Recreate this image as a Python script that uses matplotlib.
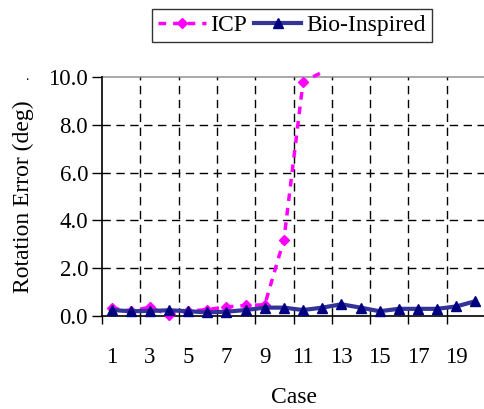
import numpy as np
import matplotlib
matplotlib.use("Agg")
import matplotlib.pyplot as plt

cases = list(range(1, 21))
icp = [0.32, 0.22, 0.36, 0.05, 0.2, 0.27, 0.38, 0.44, 0.47, 3.2, 9.8, 10.2] + [np.nan] * 8
bio = [0.25, 0.2, 0.21, 0.24, 0.2, 0.15, 0.18, 0.25, 0.35, 0.35,
       0.25, 0.35, 0.49, 0.35, 0.2, 0.3, 0.3, 0.3, 0.4, 0.62]
yticks = [0, 2, 4, 6, 8, 10]
xlabels = [str(c) for c in range(1, 21, 2)]

plt.rcParams['font.family'] = ['Liberation Serif', 'DejaVu Serif']
fs = 16.5

fig = plt.figure(figsize=(4.84, 4.09), dpi=100)
ax = fig.add_axes([102/484, 1-316/409, 383/484, 239/409])

ax.set_xlim(0.5, 20.5)
ax.set_ylim(0, 10)

# grid
for y in [2, 4, 6, 8]:
    ax.axhline(y, color='black', lw=1, ls=(0, (6, 4)), zorder=1)
ax.axhline(10, color='#999999', lw=1.2, zorder=1, clip_on=False)
for x in np.arange(2.5, 19, 2):
    ax.axvline(x, color='black', lw=1, ls=(0, (6, 4)), zorder=1)

ax.plot(cases, icp, color='#FF00FF', lw=2.5, ls=(0, (2.2, 2)),
        marker='D', markersize=5.5, markeredgecolor='#FF00FF',
        markerfacecolor='#FF00FF', markevery=list(range(11)),
        clip_on=False, zorder=3, label='ICP')
ax.plot(cases, bio, color='#333399', lw=3, marker='^', markersize=7,
        markerfacecolor='#000080', markeredgecolor='#000080',
        zorder=4, label='Bio-Inspired', clip_on=False)

for s in ['top', 'right']:
    ax.spines[s].set_visible(False)
ax.spines['left'].set_linewidth(1.2)
ax.spines['bottom'].set_linewidth(1.2)

ax.set_yticks(yticks)
ax.set_yticklabels([f"{v:.1f}" for v in yticks], fontsize=fs)
ax.tick_params(axis='y', direction='out', length=7, width=1, pad=3)

ax.set_xticks(np.arange(0.5, 20, 2))
ax.set_xticklabels([])
ax.tick_params(axis='x', which='major', direction='out', length=6, width=1)
ax.set_xticks(np.arange(1, 20, 2), minor=True)
ax.set_xticklabels(xlabels, minor=True, fontsize=fs)
ax.tick_params(axis='x', which='minor', length=0, pad=22)

ax.set_ylabel('Rotation Error (deg)', fontsize=fs + 0.5, labelpad=10)
ax.set_xlabel('Case', fontsize=fs + 0.5, labelpad=14)

leg = fig.legend(loc='center', bbox_to_anchor=(292/484, 1-25.5/409), ncol=2,
                 fontsize=fs + 0.5, frameon=True, fancybox=False, edgecolor='black',
                 handlelength=2.0, handletextpad=0.2, columnspacing=0.3,
                 borderpad=0.25, borderaxespad=0)
leg.get_frame().set_linewidth(1)

fig.text(27/484, 1-76/409, '.', fontsize=10, ha='center', va='center')

fig.savefig('out.png', dpi=100)
